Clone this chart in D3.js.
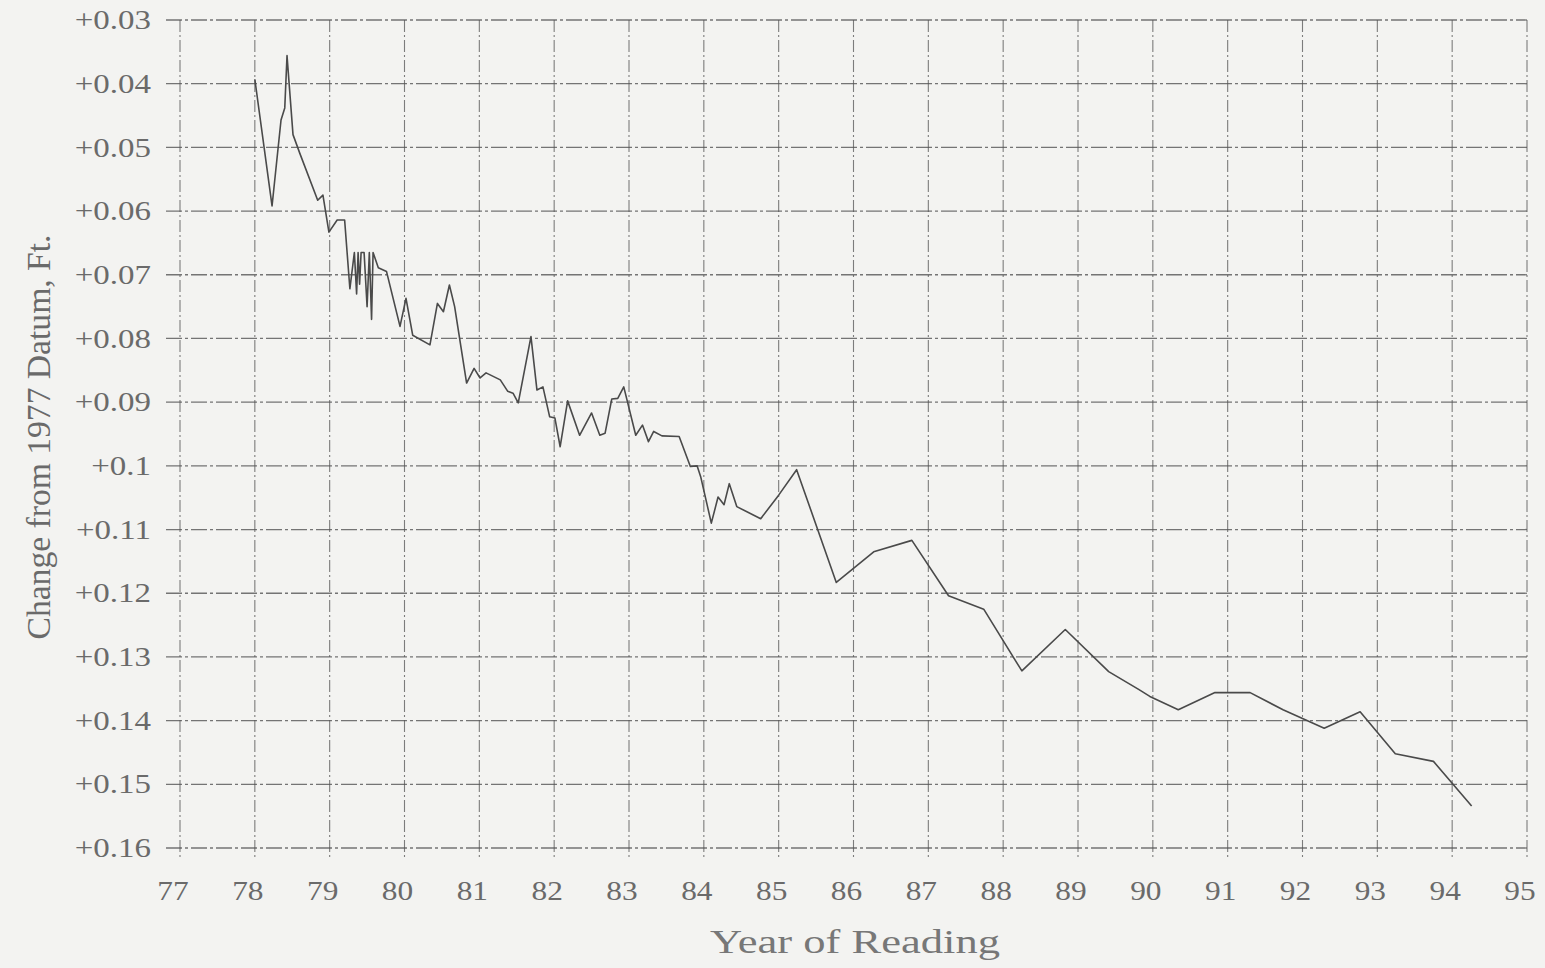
<!DOCTYPE html>
<html><head><meta charset="utf-8">
<script src="https://cdn.jsdelivr.net/npm/d3@7"></script>
<style>
html,body{margin:0;padding:0;background:#f3f3f1;}
svg{display:block;}
text{font-family:"Liberation Serif","DejaVu Serif",serif;fill:#6a6a6a;}
</style></head>
<body>
<svg id="chart" width="1545" height="968"></svg>
<script>
// Year of reading (decimal years, 19xx) and change from 1977 datum (ft)
const years = [78.00,78.23,78.35,78.40,78.43,78.51,78.60,78.84,78.91,78.99,79.10,79.20,
  79.27,79.33,79.36,79.38,79.40,79.42,79.46,79.50,79.53,79.56,79.58,79.65,79.76,79.94,80.02,80.11,80.34,
  80.44,80.52,80.60,80.67,80.83,80.93,81.01,81.09,81.28,81.38,81.45,81.52,81.69,81.77,81.85,81.94,82.01,
  82.08,82.18,82.34,82.50,82.61,82.68,82.77,82.85,82.93,83.09,83.18,83.26,83.33,83.44,83.67,83.82,83.91,
  83.96,84.10,84.19,84.27,84.34,84.44,84.76,85.00,85.24,85.77,86.27,86.78,87.27,87.74,88.25,88.83,89.41,
  89.81,89.96,90.34,90.83,91.30,91.74,92.29,92.77,93.24,93.75,94.26];
const change = [0.0393,0.0592,0.0457,0.0438,0.0356,0.0480,0.0509,0.0583,0.0575,0.0633,0.0614,0.0614,
  0.0722,0.0665,0.0730,0.0665,0.0715,0.0665,0.0665,0.0750,0.0665,0.0770,0.0665,0.0689,0.0695,0.0781,0.0737,0.0795,0.0810,
  0.0745,0.0758,0.0716,0.0750,0.0870,0.0847,0.0862,0.0854,0.0865,0.0883,0.0886,0.0901,0.0797,0.0881,0.0876,0.0923,0.0925,
  0.0970,0.0898,0.0952,0.0917,0.0952,0.0949,0.0895,0.0894,0.0876,0.0952,0.0936,0.0962,0.0946,0.0953,0.0954,0.1001,0.1000,
  0.1018,0.1090,0.1049,0.1061,0.1028,0.1064,0.1083,0.1046,0.1006,0.1183,0.1135,0.1117,0.1204,0.1225,0.1322,0.1257,0.1323,
  0.1351,0.1362,0.1383,0.1356,0.1356,0.1383,0.1412,0.1386,0.1452,0.1464,0.1534];
const xTicks = [77,78,79,80,81,82,83,84,85,86,87,88,89,90,91,92,93,94,95];
const yTicks = [0.03,0.04,0.05,0.06,0.07,0.08,0.09,0.10,0.11,0.12,0.13,0.14,0.15,0.16];
const yTickLabels = ["+0.03","+0.04","+0.05","+0.06","+0.07","+0.08","+0.09","+0.1","+0.11","+0.12","+0.13","+0.14","+0.15","+0.16"];
const xTitle = "Year of Reading";
const yTitle = "Change from 1977 Datum, Ft.";

const svg = d3.select("#chart");
const x = d3.scaleLinear().domain([77,95]).range([180,1527]);
const y = d3.scaleLinear().domain([0.03,0.16]).range([20,848]);
const gridColor = "#555";

// horizontal gridlines
svg.append("g").selectAll("line").data(yTicks).join("line")
  .attr("x1", 166).attr("x2", x(95))
  .attr("y1", d=>y(d)).attr("y2", d=>y(d))
  .attr("stroke", gridColor).attr("stroke-width", 1.3)
  .attr("stroke-dasharray", "16,3,3,3").attr("opacity", 0.8);
// vertical gridlines
svg.append("g").selectAll("line").data(xTicks).join("line")
  .attr("x1", d=>x(d)).attr("x2", d=>x(d))
  .attr("y1", y(0.03)).attr("y2", y(0.16)+12)
  .attr("stroke", gridColor).attr("stroke-width", 1.1)
  .attr("stroke-dasharray", "12,3,2,3").attr("opacity", 0.75);

// y tick labels
svg.append("g").selectAll("text").data(yTicks).join("text")
  .attr("transform", d=>`translate(151,${y(d)}) scale(1.22,1)`)
  .attr("dy","0.34em")
  .attr("text-anchor","end").attr("font-size", 27)
  .text((d,i)=>yTickLabels[i]);
// x tick labels
svg.append("g").selectAll("text").data(xTicks).join("text")
  .attr("transform", d=>`translate(${x(d)-7},900) scale(1.12,1)`)
  .attr("text-anchor","middle").attr("font-size", 28)
  .text(d=>d);

// axis titles
svg.append("text").attr("x", 855).attr("y", 953).attr("text-anchor","middle")
  .attr("font-size", 34).attr("textLength", 290).attr("lengthAdjust","spacingAndGlyphs")
  .style("fill","#777")
  .text(xTitle);
svg.append("text").attr("transform","translate(50,437) rotate(-90)")
  .attr("text-anchor","middle").attr("font-size", 34)
  .attr("textLength", 405).attr("lengthAdjust","spacingAndGlyphs")
  .text(yTitle);

// data line
const line = d3.line().x((d,i)=>x(years[i])).y((d,i)=>y(change[i]));
svg.append("path").datum(change)
  .attr("d", line).attr("fill","none")
  .attr("stroke","#4a4a4a").attr("stroke-width",1.6).attr("stroke-linejoin","round");
</script>
</body></html>
